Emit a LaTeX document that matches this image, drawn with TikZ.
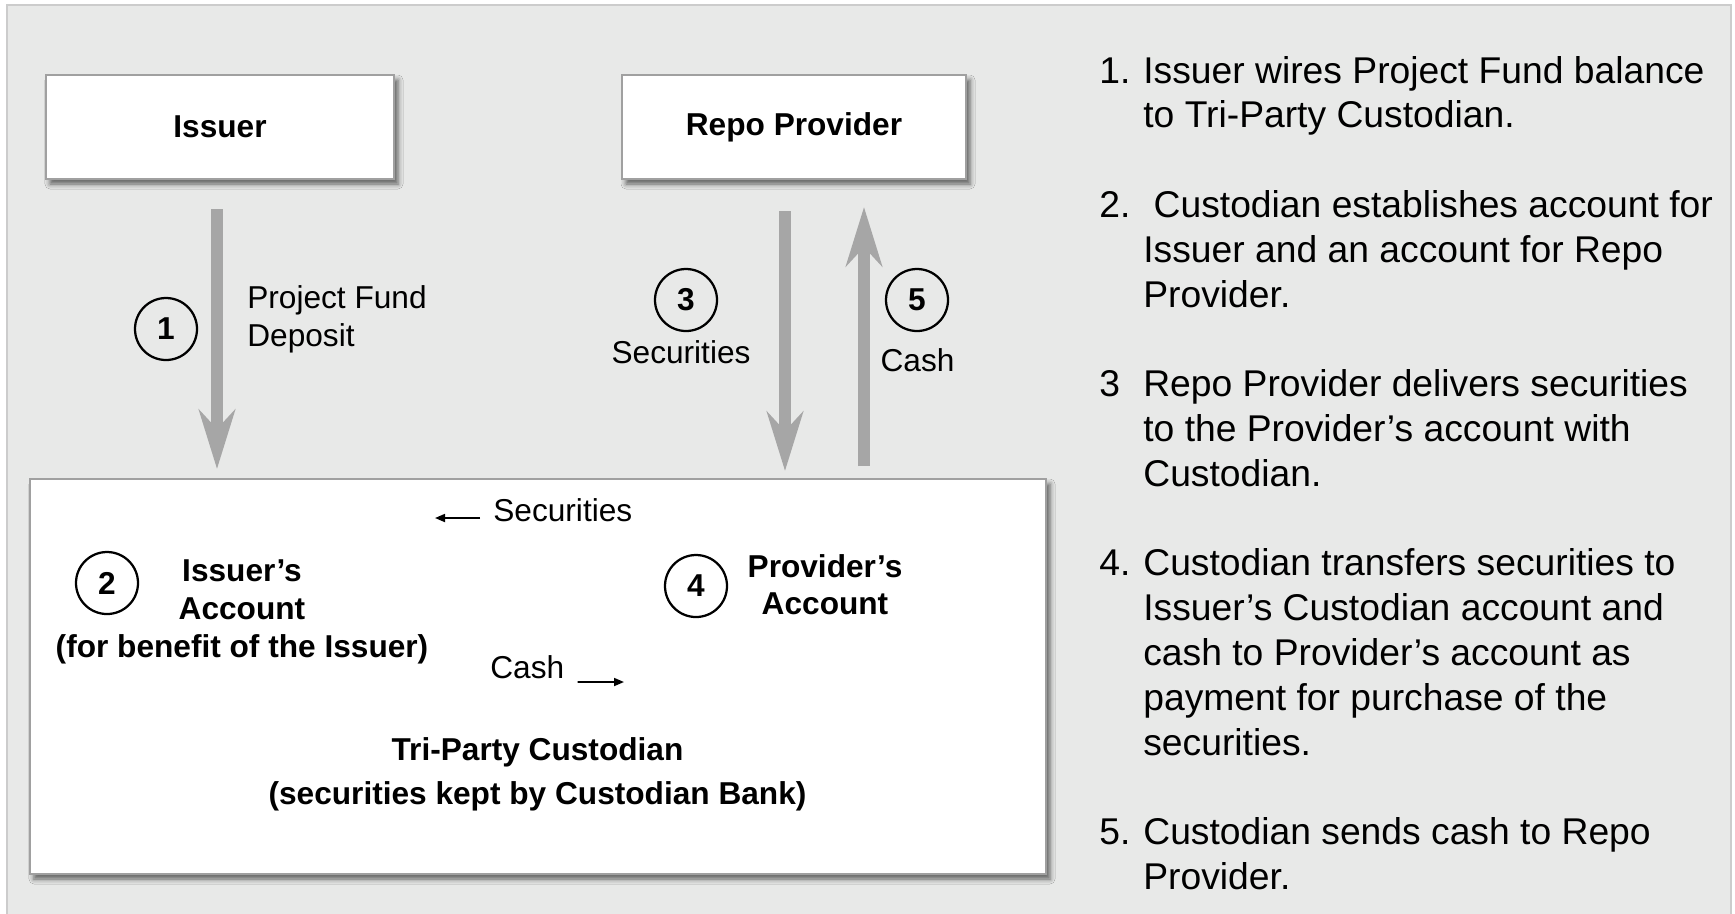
\documentclass[tikz,border=0pt]{standalone}
\usepackage{fontspec}
\setmainfont{Liberation Sans}
\usetikzlibrary{arrows.meta,positioning,calc,shadows.blur}

\begin{document}
\begin{tikzpicture}[
        every node/.style={font=\fontsize{18}{22}\selectfont, inner sep=0pt},
        party/.style={draw=boxgray, line width=0.04cm, fill=white, minimum height=2.08cm,
            blur shadow={shadow xshift=0.08cm, shadow yshift=-0.1cm, shadow blur radius=0.1cm, shadow opacity=60},
            font=\fontsize{18}{22}\selectfont\bfseries},
        stepnum/.style={circle, draw, line width=0.045cm, minimum size=1.24cm, font=\fontsize{18}{22}\selectfont\bfseries},
        acct/.style={anchor=base, font=\fontsize{18}{21.5}\selectfont\bfseries},
        flow/.style={draw=flowgray, line width=0.24cm, -{Stealth[length=1.18cm, width=0.72cm, inset=0.38cm]}},
        hint/.style={line width=0.035cm, -{Triangle[length=0.2cm, width=0.16cm]}}
    ]
        \definecolor{bggray}{RGB}{232,233,232}
        \definecolor{bgline}{RGB}{204,204,204}
        \definecolor{boxgray}{RGB}{160,160,160}
        \definecolor{flowgray}{RGB}{166,166,166}

        % Page and panel
        \useasboundingbox (0,0) rectangle (34.7,-18.26);
        \fill[bggray] (0.14,-0.10) rectangle (34.62,-18.5);
        \draw[bgline, line width=0.03cm] (0.14,-18.5) -- (0.14,-0.10) -- (34.62,-0.10) -- (34.62,-18.5);

        % Parties
        \node[party, minimum width=6.96cm] (issuer) at (4.40,-2.54) {Issuer};
        \node[party, minimum width=6.88cm] (repo) at (15.88,-2.54) {Repo Provider};
        \node[party, minimum width=20.32cm, minimum height=7.90cm] (cust) at (10.76,-13.53) {};

        % Transfers between parties
        \draw[flow, shorten <=0.58cm, shorten >=0.18cm] ([xshift=-0.06cm]issuer.south) -- ([xshift=-0.06cm]issuer.south |- cust.north);
        \draw[flow, shorten <=0.62cm, shorten >=0.14cm] ([xshift=-0.18cm]repo.south) -- ([xshift=-0.18cm]repo.south |- cust.north);
        \draw[flow, shorten <=0.24cm, shorten >=0.54cm] ([xshift=1.40cm]repo.south |- cust.north) -- ([xshift=1.40cm]repo.south);

        % Step markers and labels
        \node[stepnum] (s1) at (3.32,-6.58) {1};
        \node[anchor=base west] (deposit) at (4.94,-6.16) {\begin{tabular}[t]{@{}l@{}}Project Fund\\Deposit\end{tabular}};

        \node[stepnum] (s3) at (13.72,-6.00) {3};
        \node[anchor=base] (seclabel) at (13.62,-7.26) {Securities};

        \node[stepnum] (s5) at (18.34,-6.00) {5};
        \node[anchor=base] (cashlabel) at (18.35,-7.42) {Cash};

        % Inside the custodian
        \node[stepnum] (s2) at (2.14,-11.66) {2};
        \node[acct] (issacct) at (4.84,-11.63) {\begin{tabular}[t]{@{}c@{}}Issuer’s\\Account\\(for benefit of the Issuer)\end{tabular}};

        \node[stepnum] (s4) at (13.92,-11.72) {4};
        \node[acct] (provacct) at (16.50,-11.54) {\begin{tabular}[t]{@{}c@{}}Provider’s\\Account\end{tabular}};

        \node[anchor=base west] (secnote) at (9.86,-10.42) {Securities};
        \coordinate (secend) at (8.70,-10.36);
        \draw[hint] ([xshift=-0.26cm, yshift=0.06cm]secnote.base west) -- (secend);

        \node[anchor=base west] (cashnote) at (9.80,-13.56) {Cash};
        \coordinate (cashend) at (12.48,-13.64);
        \draw[hint] ([xshift=0.26cm, yshift=-0.08cm]cashnote.base east) -- (cashend);

        \node[acct, font=\fontsize{18}{25}\selectfont\bfseries] (custtitle) at (10.75,-15.21) {\begin{tabular}[t]{@{}c@{}}Tri-Party Custodian\\(securities kept by Custodian Bank)\end{tabular}};

        % Steps list
        \node[anchor=base west, font=\fontsize{21.2}{25.5}\selectfont] (steps) at (21.98,-1.66) {%
            \begin{tabular}[t]{@{}p{0.88cm}@{}l@{}}
            1. & Issuer wires Project Fund balance\\
               & to Tri-Party Custodian.\\
               & \\
            2. & \ Custodian establishes account for\\
               & Issuer and an account for Repo\\
               & Provider.\\
               & \\
            3  & Repo Provider delivers securities\\
               & to the Provider’s account with\\
               & Custodian.\\
               & \\
            4. & Custodian transfers securities to\\
               & Issuer’s Custodian account and\\
               & cash to Provider’s account as\\
               & payment for purchase of the\\
               & securities.\\
               & \\
            5. & Custodian sends cash to Repo\\
               & Provider.
            \end{tabular}};
    \end{tikzpicture}
\end{document}
